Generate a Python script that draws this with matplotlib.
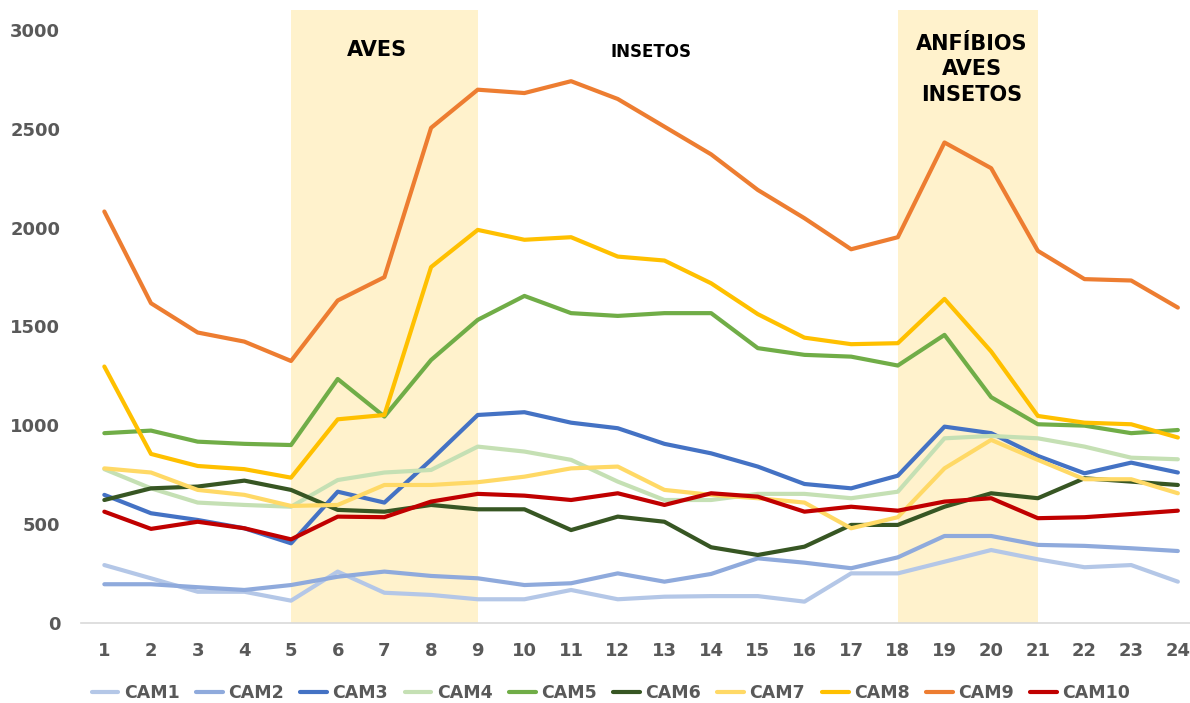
import matplotlib.pyplot as plt
import numpy as np

# hours / camera counts
hours = list(range(1, 25))

cam1 = [293, 226, 158, 158, 113, 260, 153, 142, 120, 120, 167, 120,
        133, 136, 136, 108, 251, 251, 310, 369, 322, 282, 293, 209]
cam2 = [196, 196, 181, 167, 192, 234, 260, 238, 226, 192, 201, 251,
        209, 248, 327, 305, 277, 332, 440, 440, 395, 390, 378, 364]
cam3 = [648, 555, 521, 479, 403, 664, 609, 825, 1052, 1066, 1013, 985,
        906, 858, 791, 703, 681, 745, 993, 960, 845, 757, 811, 761]
cam4 = [778, 681, 609, 597, 588, 723, 761, 774, 892, 867, 825, 715,
        622, 622, 653, 653, 631, 664, 934, 946, 934, 892, 836, 828]
cam5 = [960, 973, 917, 906, 900, 1234, 1044, 1330, 1533, 1654, 1567, 1553,
        1567, 1567, 1390, 1356, 1347, 1302, 1457, 1142, 1005, 998, 960, 976]
cam6 = [622, 681, 690, 720, 673, 572, 563, 597, 575, 575, 470, 538,
        512, 383, 344, 386, 496, 496, 588, 656, 631, 732, 715, 698]
cam7 = [782, 761, 673, 648, 592, 597, 698, 698, 712, 740, 782, 791,
        673, 648, 631, 609, 479, 535, 782, 926, 825, 727, 727, 656]
cam8 = [1297, 855, 794, 778, 735, 1030, 1052, 1800, 1988, 1938, 1951, 1853,
        1833, 1718, 1562, 1443, 1410, 1415, 1639, 1373, 1047, 1013, 1005, 938]
cam9 = [2081, 1617, 1469, 1423, 1325, 1631, 1749, 2504, 2697, 2680, 2740, 2650,
        2510, 2370, 2190, 2047, 1890, 1951, 2430, 2300, 1882, 1739, 1732, 1595]
cam10 = [563, 476, 512, 479, 423, 538, 535, 614, 653, 644, 622, 656,
         597, 656, 639, 563, 588, 568, 614, 631, 530, 535, 551, 568]

series_names = ["CAM1", "CAM2", "CAM3", "CAM4", "CAM5",
                "CAM6", "CAM7", "CAM8", "CAM9", "CAM10"]
series_vals = [cam1, cam2, cam3, cam4, cam5, cam6, cam7, cam8, cam9, cam10]
series_colors = ["#B4C7E7", "#8FAADC", "#4472C4", "#C5E0B4", "#70AD47",
                 "#375623", "#FFD966", "#FFC000", "#ED7D31", "#C00000"]

# shaded periods
bands = [(5, 9), (18, 21)]
band_color = "#FFF2CC"

TXT = "#595959"

fig = plt.figure(figsize=(11.9, 7.03), dpi=100)
ax = fig.add_axes([81 / 1190, 80 / 703, 1 - 81 / 1190, 613 / 703])

for a, b in bands:
    ax.axvspan(a, b, color=band_color, lw=0, zorder=0)

for name, vals, col in zip(series_names, series_vals, series_colors):
    ax.plot(hours, vals, color=col, lw=3.0, label=name,
            solid_capstyle="round", solid_joinstyle="round", zorder=2)

ax.set_xlim(0.5, 24.26)
ax.set_ylim(0, 3100)
ax.set_xticks(hours)
ax.set_yticks(np.arange(0, 3001, 500))
ax.tick_params(length=0, labelsize=13, labelcolor=TXT)
ax.tick_params(axis="x", pad=14)
ax.tick_params(axis="y", pad=15)
for lab in ax.get_xticklabels() + ax.get_yticklabels():
    lab.set_fontweight("bold")
for side in ["top", "right", "left"]:
    ax.spines[side].set_visible(False)
ax.spines["bottom"].set_color("#D9D9D9")
ax.spines["bottom"].set_linewidth(1.2)
ax.spines["bottom"].set_zorder(1)

ax.text(6.85, 2900, "AVES", ha="center", va="center",
        fontsize=15, fontweight="bold", color="black")
ax.text(12.71, 2890, "INSETOS", ha="center", va="center",
        fontsize=12, fontweight="bold", color="black")
ax.text(19.59, 2800, "ANFÍBIOS\nAVES\nINSETOS", ha="center", va="center",
        fontsize=15, fontweight="bold", color="black", linespacing=1.35)

leg = fig.legend(loc="center", bbox_to_anchor=(611 / 1190, 1 - 693 / 703),
                 ncol=10, frameon=False, handlelength=1.55,
                 handletextpad=0.3, columnspacing=0.95,
                 prop={"size": 12.5, "weight": "bold"})
for t in leg.get_texts():
    t.set_color(TXT)

fig.savefig("out.png", dpi=100)
